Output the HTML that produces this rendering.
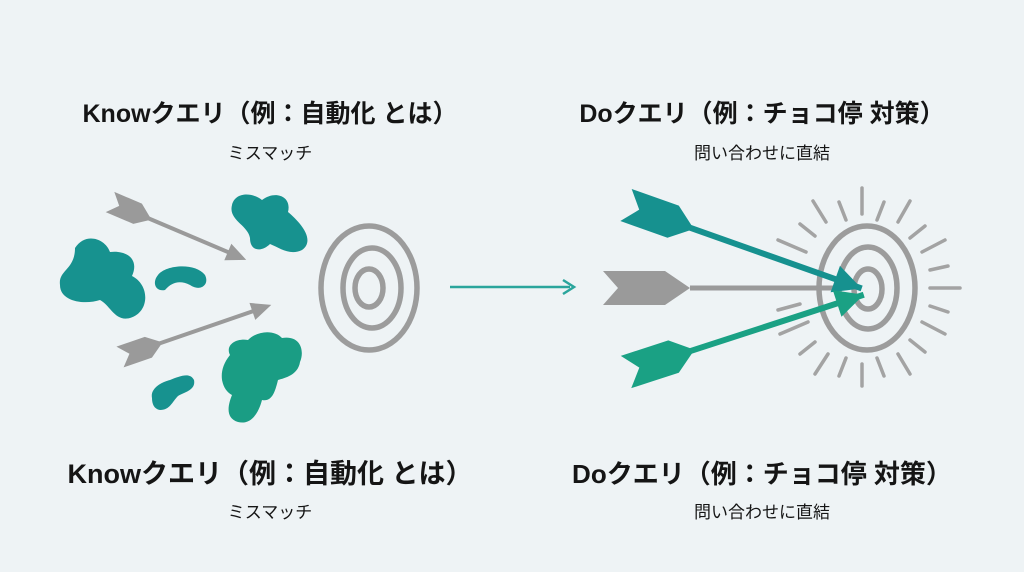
<!DOCTYPE html>
<html><head><meta charset="utf-8"><style>
html,body{margin:0;padding:0;background:#eef3f5;}
svg{display:block}
text{font-family:"Liberation Sans","Noto Sans CJK JP",sans-serif;fill:#151515;text-anchor:middle}
.t{font-weight:bold}
</style></head><body>
<svg width="1024" height="572" viewBox="0 0 1024 572">
<rect width="1024" height="572" fill="#eef3f5"/>
<text class="t" x="270" y="122" font-size="25">Knowクエリ（例：自動化 とは）</text>
<text x="270" y="159" font-size="17">ミスマッチ</text>
<text class="t" x="762" y="122" font-size="25">Doクエリ（例：チョコ停 対策）</text>
<text x="762" y="159" font-size="17">問い合わせに直結</text>
<text class="t" x="270" y="483" font-size="27">Knowクエリ（例：自動化 とは）</text>
<text x="270" y="518" font-size="17">ミスマッチ</text>
<text class="t" x="762" y="483" font-size="26">Doクエリ（例：チョコ停 対策）</text>
<text x="762" y="518" font-size="17">問い合わせに直結</text>

<!-- left blobs -->
<g fill="#17928f">
<path d="M75 248 C85 232 105 238 110 252 C125 250 140 258 132 276 C150 285 150 312 130 318 C115 322 110 305 100 300 C85 305 60 302 60 285 C58 270 75 270 75 248Z"/>
<path d="M232 205 C235 192 252 192 262 200 C275 190 292 196 288 212 C300 222 316 240 302 250 C290 256 280 248 270 244 C262 252 250 252 250 238 C248 225 228 220 232 205Z"/>
<path d="M158 275 C165 265 195 262 205 275 C210 285 200 292 190 285 C180 280 172 282 165 290 C155 292 152 282 158 275Z"/>
<path d="M152 398 C150 388 162 382 170 380 C180 376 190 372 194 380 C196 390 185 392 178 396 C172 402 170 410 160 410 C154 409 152 404 152 398Z"/>
</g>
<path fill="#1a9d84" d="M230 355 C225 345 236 338 248 340 C258 330 275 330 282 338 C300 335 305 350 300 362 C298 375 285 378 278 380 C275 392 272 402 262 400 C258 415 250 425 238 422 C225 418 228 405 232 395 C222 390 216 372 230 355Z"/>

<!-- left arrows -->
<g fill="#9a9a9a">
<g transform="translate(110,202) rotate(23)">
<rect x="40" y="-2" width="100" height="4"/>
<polygon points="148,0 128,-9 128,9"/>
<polygon points="0,-11 30,-11 45,0 30,11 0,11 10,0"/>
</g>
<g transform="translate(120,357) rotate(-19)">
<rect x="40" y="-2" width="112" height="4"/>
<polygon points="160,0 140,-9 140,9"/>
<polygon points="0,-11 30,-11 45,0 30,11 0,11 10,0"/>
</g>
</g>
<!-- left target -->
<g fill="none" stroke="#9c9c9c" stroke-width="5.5">
<ellipse cx="369" cy="288" rx="48" ry="62"/>
<ellipse cx="372" cy="288" rx="29" ry="40"/>
<ellipse cx="369" cy="288" rx="14" ry="19"/>
</g>
<!-- middle arrow -->
<line x1="450" y1="287" x2="570" y2="287" stroke="#2aa59c" stroke-width="2.5"/>
<polyline points="563,280 574,287 563,294" fill="none" stroke="#2aa59c" stroke-width="2.5"/>

<!-- right target -->
<g fill="none" stroke="#9c9c9c" stroke-width="5.5">
<ellipse cx="867" cy="288" rx="48" ry="62"/>
<ellipse cx="868" cy="288" rx="29" ry="41"/>
<ellipse cx="868" cy="289" rx="14" ry="20"/>
</g>
<g stroke="#a3a3a3" stroke-width="3.5" stroke-linecap="round">
<line x1="862" y1="188" x2="862" y2="214"/>
<line x1="839" y1="202" x2="846" y2="220"/>
<line x1="884" y1="202" x2="877" y2="220"/>
<line x1="813" y1="201" x2="826" y2="222"/>
<line x1="910" y1="201" x2="898" y2="222"/>
<line x1="800" y1="224" x2="815" y2="236"/>
<line x1="925" y1="226" x2="910" y2="238"/>
<line x1="778" y1="240" x2="806" y2="252"/>
<line x1="945" y1="240" x2="922" y2="252"/>
<line x1="930" y1="270" x2="948" y2="266"/>
<line x1="930" y1="288" x2="960" y2="288"/>
<line x1="930" y1="306" x2="948" y2="312"/>
<line x1="778" y1="310" x2="800" y2="304"/>
<line x1="780" y1="334" x2="808" y2="322"/>
<line x1="945" y1="334" x2="922" y2="322"/>
<line x1="800" y1="354" x2="815" y2="342"/>
<line x1="925" y1="352" x2="910" y2="340"/>
<line x1="815" y1="374" x2="828" y2="354"/>
<line x1="910" y1="374" x2="898" y2="354"/>
<line x1="839" y1="376" x2="846" y2="358"/>
<line x1="884" y1="376" x2="877" y2="358"/>
<line x1="862" y1="364" x2="862" y2="386"/>
</g>
<!-- right arrows -->
<g>
<line x1="690" y1="288" x2="835" y2="288" stroke="#9a9a9a" stroke-width="5"/>
<polygon points="603,271 665,271 690,288 665,305 603,305 618,288" fill="#9a9a9a"/>
<g transform="translate(626,205) rotate(19.5)" fill="#16918f">
<rect x="60" y="-3" width="190" height="6"/>
<polygon points="250,0 222,-14 222,14"/>
<polygon points="0,-17 50,-17 72,0 50,17 0,17 14,0"/>
</g>
<g transform="translate(626,372) rotate(-18)" fill="#1aa184">
<rect x="60" y="-3" width="190" height="6"/>
<polygon points="250,0 222,-14 222,14"/>
<polygon points="0,-17 50,-17 72,0 50,17 0,17 14,0"/>
</g>
</g>
</svg>
</body></html>
